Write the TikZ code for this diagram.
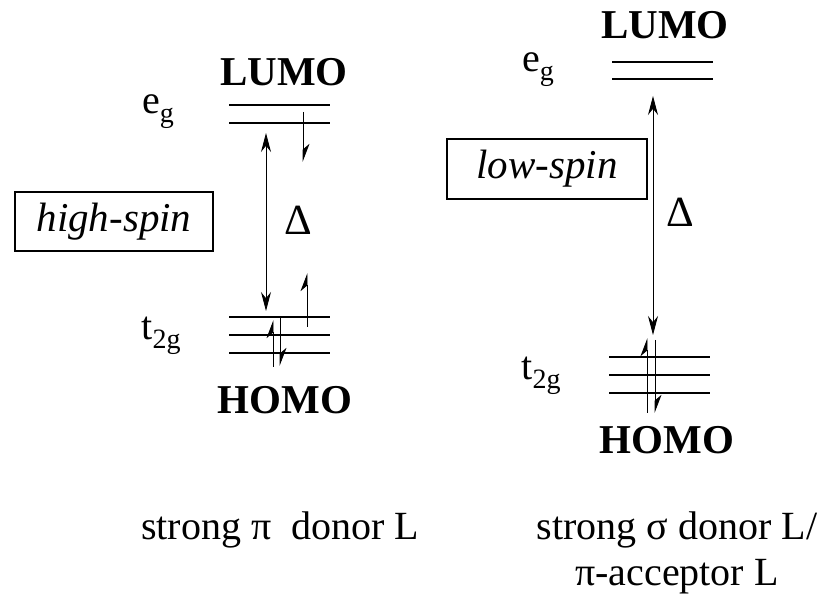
\documentclass[tikz,border=0pt]{standalone}
\usepackage{fontspec}
\setmainfont{Liberation Serif}
\usetikzlibrary{arrows.meta,positioning}
\newcommand{\lowidx}[1]{\raisebox{-9pt}{\fontsize{28}{30}\selectfont #1}}

\begin{document}
\begin{tikzpicture}[x=1pt, y=-1pt,
    lvl/.style={line width=1.6pt},
    gap/.style={line width=0.9pt,
      {Stealth[length=19pt,width=10pt]}-{Stealth[length=19pt,width=10pt]}},
    spin/.style={line width=0.9pt, -{Stealth[harpoon,length=17pt,width=13pt]}},
    big/.style={font=\fontsize{40}{46}\selectfont},
    orb/.style={font=\fontsize{41}{46}\selectfont\bfseries},
    spinbox/.style={draw, line width=1.4pt, minimum width=198pt,
      minimum height=59pt, inner sep=0pt, font=\fontsize{41}{46}\selectfont\itshape},
  ]
  \useasboundingbox (0,0) rectangle (831,601);

  % Left: strong pi donor
  \node[orb] (lumoL) at (284,72) {LUMO};
  \node[orb] (homoL) at (285,400) {HOMO};
  \node[big] (egL) at (158,112) {e\lowidx{g}};
  \node[big] (tgL) at (161,336) {t\lowidx{2g}};

  \draw[lvl] (229,105) -- (330,105);
  \draw[lvl] (229,123) -- (330,123);
  \foreach \y in {317,335,353} {
    \draw[lvl] (229,\y) -- (330,\y);
  }

  \coordinate (gapLtop) at (266,133);
  \coordinate (gapLbot) at (266,311);
  \draw[gap] (gapLbot) -- (gapLtop);
  \node[font=\fontsize{43}{46}\selectfont] (deltaL) at (298,220) {Δ};

  % electrons
  \coordinate (e1a) at (303,112);
  \coordinate (e1b) at (303,162);
  \coordinate (e2a) at (307,327);
  \coordinate (e2b) at (307,273);
  \coordinate (e3a) at (273,367);
  \coordinate (e3b) at (273,320);
  \coordinate (e4a) at (280,317);
  \coordinate (e4b) at (280,366);
  \draw[spin] (e1a) -- (e1b);
  \draw[spin] (e2a) -- (e2b);
  \draw[spin] (e3a) -- (e3b);
  \draw[spin] (e4a) -- (e4b);

  \node[spinbox] (hs) at (114,221.5) {high-spin};

  \node[big] (donorL) at (280,530) {strong π\hspace{0.25em} donor L};

  % Right: strong sigma donor / pi acceptor
  \node[orb] (lumoR) at (665,25) {LUMO};
  \node[orb] (homoR) at (667,440) {HOMO};
  \node[big] (egR) at (538,70) {e\lowidx{g}};
  \node[big] (tgR) at (541,376) {t\lowidx{2g}};

  \draw[lvl] (612,62) -- (713,62);
  \draw[lvl] (612,79) -- (713,79);
  \foreach \y in {357,375,393} {
    \draw[lvl] (609,\y) -- (710,\y);
  }

  \coordinate (gapRtop) at (653,96);
  \coordinate (gapRbot) at (653,335);
  \draw[gap] (gapRbot) -- (gapRtop);
  \node[font=\fontsize{43}{46}\selectfont] (deltaR) at (680,212) {Δ};

  \coordinate (e5a) at (647,413);
  \coordinate (e5b) at (647,338);
  \coordinate (e6a) at (655,340);
  \coordinate (e6b) at (655,413);
  \draw[spin] (e5a) -- (e5b);
  \draw[spin] (e6a) -- (e6b);

  \node[spinbox, minimum width=200pt, minimum height=60pt] (ls) at (547,169) {low-spin};

  \node[big, align=center] (donorR) at (677,553)
    {strong σ donor L/\\π-acceptor L};

\end{tikzpicture}
\end{document}
